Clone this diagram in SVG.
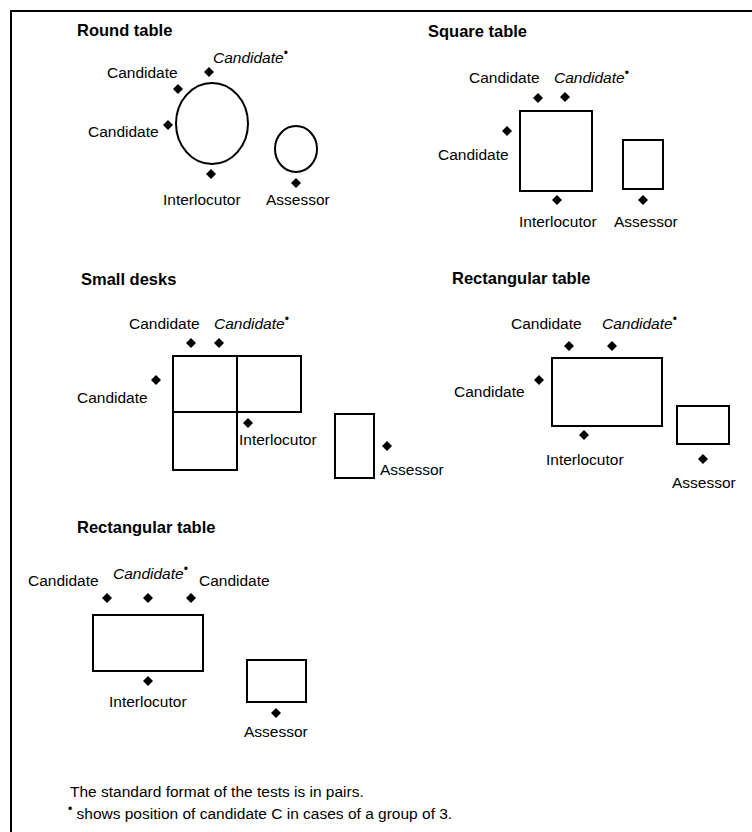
<svg xmlns="http://www.w3.org/2000/svg" xmlns:xlink="http://www.w3.org/1999/xlink" width="752" height="832" viewBox="0 0 752 832">
<style>
text{font-family:"Liberation Sans",Arial,sans-serif;fill:#000}
.t{font-size:16.5px;font-weight:bold}
.l{font-size:15.5px}
.i{font-style:italic}
.b{font-size:12px;font-style:normal}
.f{font-size:15.5px}
.tab{fill:#fff;stroke:#000;stroke-width:2}
</style>
<defs>
<path id="dm" d="M0,-5 L5,0 L0,5 L-5,0 Z" fill="#000"/>
</defs>
<rect width="752" height="832" fill="#fff"/>
<path d="M11,832 V11 H752" fill="none" stroke="#000" stroke-width="2"/>
<g id="connectors"/>

<g id="round-table">
<text class="t" x="77" y="36">Round table</text>
<g id="rt-table"><ellipse class="tab" cx="212" cy="123.5" rx="36" ry="40.5"/></g>
<g id="rt-assessor-table"><ellipse class="tab" cx="296" cy="149" rx="21" ry="23"/></g>
<g id="rt-c1"><use xlink:href="#dm" x="178" y="89"/><text class="l" x="107" y="78">Candidate</text></g>
<g id="rt-c2"><use xlink:href="#dm" x="168" y="125"/><text class="l" x="88" y="137">Candidate</text></g>
<g id="rt-c3"><use xlink:href="#dm" x="209" y="72"/><text class="l i" x="213" y="63">Candidate<tspan class="b" dy="-6">•</tspan></text></g>
<g id="rt-int"><use xlink:href="#dm" x="211" y="174"/><text class="l" x="163" y="205">Interlocutor</text></g>
<g id="rt-ass"><use xlink:href="#dm" x="296" y="183"/><text class="l" x="266" y="205">Assessor</text></g>
</g>

<g id="square-table">
<text class="t" x="428" y="37">Square table</text>
<g id="sq-table"><rect class="tab" x="520" y="111" width="72" height="80"/></g>
<g id="sq-assessor-table"><rect class="tab" x="623" y="140" width="40" height="49"/></g>
<g id="sq-c1"><use xlink:href="#dm" x="538" y="98"/><text class="l" x="469" y="83">Candidate</text></g>
<g id="sq-c3"><use xlink:href="#dm" x="565" y="97"/><text class="l i" x="554" y="83">Candidate<tspan class="b" dy="-6">•</tspan></text></g>
<g id="sq-c2"><use xlink:href="#dm" x="507" y="131"/><text class="l" x="438" y="160">Candidate</text></g>
<g id="sq-int"><use xlink:href="#dm" x="557" y="200"/><text class="l" x="519" y="227">Interlocutor</text></g>
<g id="sq-ass"><use xlink:href="#dm" x="643" y="200"/><text class="l" x="614" y="227">Assessor</text></g>
</g>

<g id="small-desks">
<text class="t" x="81" y="285">Small desks</text>
<g id="sd-desks">
<rect class="tab" x="173" y="356" width="64" height="56"/>
<rect class="tab" x="237" y="356" width="64" height="56"/>
<rect class="tab" x="173" y="412" width="64" height="58"/>
</g>
<g id="sd-assessor-table"><rect class="tab" x="335" y="414" width="39" height="64"/></g>
<g id="sd-c1"><use xlink:href="#dm" x="191" y="343"/><text class="l" x="129" y="329">Candidate</text></g>
<g id="sd-c3"><use xlink:href="#dm" x="219" y="343"/><text class="l i" x="214" y="329">Candidate<tspan class="b" dy="-6">•</tspan></text></g>
<g id="sd-c2"><use xlink:href="#dm" x="156" y="380"/><text class="l" x="77" y="403">Candidate</text></g>
<g id="sd-int"><use xlink:href="#dm" x="248" y="423"/><text class="l" x="239" y="445">Interlocutor</text></g>
<g id="sd-ass"><use xlink:href="#dm" x="387" y="446"/><text class="l" x="380" y="475">Assessor</text></g>
</g>

<g id="rect-table-1">
<text class="t" x="452" y="284">Rectangular table</text>
<g id="r1-table"><rect class="tab" x="552" y="358" width="110" height="68"/></g>
<g id="r1-assessor-table"><rect class="tab" x="677" y="406" width="52" height="38"/></g>
<g id="r1-c1"><use xlink:href="#dm" x="569" y="346"/><text class="l" x="511" y="329">Candidate</text></g>
<g id="r1-c3"><use xlink:href="#dm" x="612" y="346"/><text class="l i" x="602" y="329">Candidate<tspan class="b" dy="-6">•</tspan></text></g>
<g id="r1-c2"><use xlink:href="#dm" x="539" y="380"/><text class="l" x="454" y="397">Candidate</text></g>
<g id="r1-int"><use xlink:href="#dm" x="584" y="435"/><text class="l" x="546" y="465">Interlocutor</text></g>
<g id="r1-ass"><use xlink:href="#dm" x="703" y="459"/><text class="l" x="672" y="488">Assessor</text></g>
</g>

<g id="rect-table-2">
<text class="t" x="77" y="533">Rectangular table</text>
<g id="r2-table"><rect class="tab" x="93" y="615" width="110" height="56"/></g>
<g id="r2-assessor-table"><rect class="tab" x="247" y="660" width="59" height="42"/></g>
<g id="r2-c1"><use xlink:href="#dm" x="107" y="598"/><text class="l" x="28" y="586">Candidate</text></g>
<g id="r2-c3"><use xlink:href="#dm" x="148" y="598"/><text class="l i" x="113" y="579">Candidate<tspan class="b" dy="-6">•</tspan></text></g>
<g id="r2-c2"><use xlink:href="#dm" x="191" y="598"/><text class="l" x="199" y="586">Candidate</text></g>
<g id="r2-int"><use xlink:href="#dm" x="148" y="681"/><text class="l" x="109" y="707">Interlocutor</text></g>
<g id="r2-ass"><use xlink:href="#dm" x="276" y="713"/><text class="l" x="244" y="737">Assessor</text></g>
</g>

<g id="footer">
<text class="f" x="70" y="797">The standard format of the tests is in pairs.</text>
<text class="f" x="68" y="819"><tspan class="b" dy="-6">•</tspan><tspan dy="6"> shows position of candidate C in cases of a group of 3.</tspan></text>
</g>
</svg>
